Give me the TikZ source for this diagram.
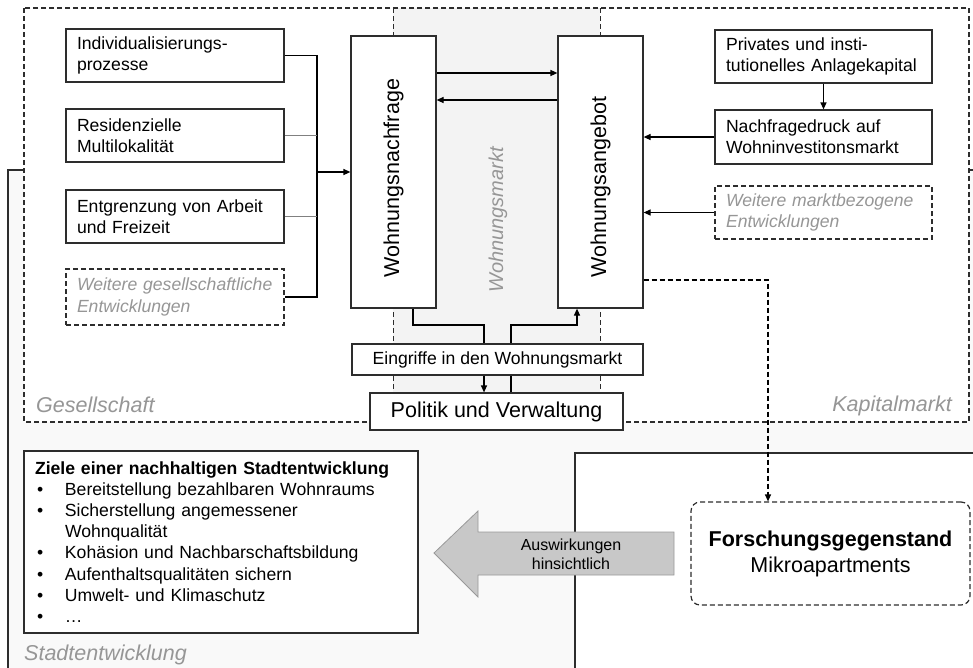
\documentclass[tikz,border=0pt]{standalone}
\usepackage{fontspec}
\setmainfont{Liberation Sans}
\usepackage{graphicx}
\usetikzlibrary{arrows.meta,calc}
\definecolor{lbl}{RGB}{150,150,150}
\definecolor{bandc}{RGB}{243,243,243}
\definecolor{outerc}{RGB}{249,249,249}
\definecolor{arrc}{RGB}{200,200,200}
\definecolor{bord}{RGB}{45,45,45}
\newcommand{\fsN}{\fontsize{17.6}{21.2}\selectfont}
\newcommand{\fsL}{\fontsize{21.5}{26}\selectfont}
\newcommand{\fsA}{\fontsize{16}{19}\selectfont}
\newcommand{\blt}{\makebox[30pt][l]{\hspace{2pt}•}}
\begin{document}
\begin{tikzpicture}[x=1pt,y=-1pt,
  bx/.style={draw=bord, line width=1.2pt, fill=white, inner xsep=11pt, inner ysep=0pt,
    text width=#1, align=left, font=\fsN, minimum height=53pt},
  bx/.default=196pt,
  dbx/.style={bx=#1, dash pattern=on 5pt off 3pt, text=lbl, font=\fsN\itshape},
  dbx/.default=196pt,
  vbox/.style={draw=bord, line width=1.2pt, fill=white, inner sep=0pt,
    minimum width=85pt, minimum height=272pt, font=\fsL},
  frm/.style={draw=bord, line width=1.1pt, dash pattern=on 5pt off 3pt},
  con/.style={draw=black, line width=1.2pt},
  arr/.style={con, -{Triangle[length=7pt,width=6pt]}},
  lab/.style={text=lbl, font=\fsL\itshape, inner sep=0pt}
]
\useasboundingbox (0,0) rectangle (973,667);
\clip (0,0) rectangle (973,667);

% Stadtentwicklung region
\draw[fill=outerc, draw=bord, line width=1.2pt] (8,700) -- (8,170) -- (978,170) -- (978,700);
% white research area
\fill[white] (575,453) rectangle (990,700);
\draw[draw=bord, line width=1.2pt] (990,453) -- (575,453) -- (575,700);

% upper frame with Wohnungsmarkt band
\fill[white] (24,8) rectangle (969,422);
\fill[bandc] (393,8) rectangle (600,393);
\draw[frm] (24,8) rectangle (969,422);
\draw[frm, line width=0.9pt] (393,8) -- (393,393);
\draw[frm, line width=0.9pt] (600,8) -- (600,393);

% region labels
\node[lab, anchor=base west] (lges) at (36,412) {Gesellschaft};
\node[lab, anchor=base east] (lkap) at (952,411) {Kapitalmarkt};
\node[lab, anchor=base west] (lstadt) at (24,660) {Stadtentwicklung};
\node[text=lbl, font=\fontsize{20}{24}\selectfont\itshape, inner sep=0pt] (lwm) at (498,220) {\rotatebox{90}{Wohnungsmarkt}};

% left boxes
\node[bx] (b1) at (175,55.5) {Individualisierungs-\\prozesse};
\node[bx] (b2) at (175,135.5) {Residenzielle\\Multilokalität};
\node[bx] (b3) at (175,216.5) {Entgrenzung von Arbeit\\und Freizeit};
\node[dbx, minimum height=56pt] (b4) at (175,297) {Weitere gesellschaftliche\\Entwicklungen};

% right boxes
\node[bx=195pt] (r1) at (823.5,56.5) {Privates und insti-\\tutionelles Anlagekapital};
\node[bx=195pt, minimum height=54pt] (r2) at (823.5,137) {Nachfragedruck auf\\Wohninvestitonsmarkt};
\node[dbx=195pt] (r3) at (823.5,212.5) {Weitere marktbezogene\\Entwicklungen};

% market boxes
\node[vbox] (nf) at (393.5,172) {\rotatebox{90}{\makebox[210pt][l]{Wohnungsnachfrage}}};
\node[vbox] (na) at (600.5,172) {\rotatebox{90}{\makebox[210pt][l]{Wohnungsangebot}}};

% intervention and politics
\node[draw=bord, line width=1.2pt, fill=white, inner sep=0pt, minimum width=291pt, minimum height=31pt, font=\fsN] (ew) at (497.5,359.5) {Eingriffe in den Wohnungsmarkt};
\node[draw=bord, line width=1.2pt, fill=white, inner sep=0pt, minimum width=253pt, minimum height=37pt, font=\fsL] (pv) at (496.5,411.5) {Politik und Verwaltung};

% goals box
\node[draw=bord, line width=1.2pt, fill=white, inner xsep=11pt, inner ysep=0pt, text width=372pt,
  minimum height=182pt, align=left, font=\fsN] (zl) at (221,542) {\textbf{Ziele einer nachhaltigen Stadtentwicklung}\\
\blt Bereitstellung bezahlbaren Wohnraums\\
\blt Sicherstellung angemessener\\
\hspace*{30pt}Wohnqualität\\
\blt Kohäsion und Nachbarschaftsbildung\\
\blt Aufenthaltsqualitäten sichern\\
\blt Umwelt- und Klimaschutz\\
\blt …};

% research object
\node[draw=bord, line width=1.2pt, dash pattern=on 5pt off 3pt, rounded corners=9pt, fill=white,
  minimum width=279pt, minimum height=103pt, align=center, font=\fsL] (fg) at (830.5,553.5)
  {\textbf{Forschungsgegenstand}\\Mikroapartments};

% big arrow
\draw[fill=arrc, draw=gray!80, line width=0.8pt] (434,553) -- (478,511) -- (478,532) -- (674,532)
  -- (674,575) -- (478,575) -- (478,597) -- cycle;
\node[font=\fsA, align=center, inner sep=0pt] (aw) at (571,554) {Auswirkungen\\hinsichtlich};

% connectors left
\coordinate (busT) at (317,55.5);
\coordinate (busB) at (317,297);
\draw[con] (b1.east) -- (busT) -- (busB) -- (b4.east);
\draw[draw=gray, line width=0.8pt] (b2.east) -- (b2.east -| busT);
\draw[draw=gray, line width=0.8pt] (b3.east) -- (b3.east -| busT);
\draw[arr] (busT |- nf.west) -- (nf.west);

% between market boxes
\draw[arr] ([yshift=99pt]nf.east) -- ([yshift=99pt]na.west);
\draw[arr] ([yshift=72pt]na.west) -- ([yshift=72pt]nf.east);

% right connectors
\draw[arr] (r1.south) -- (r2.north);
\draw[arr] (r2.west) -- (r2.west -| na.east);
\draw[arr] (r3.west) -- (r3.west -| na.east);

% dashed arrow to research object
\coordinate (dk) at (768,280);
\draw[arr, dash pattern=on 5pt off 3pt] (na.east |- dk) -- (dk) -- (dk |- fg.north);

% intervention loop
\coordinate (c1) at (413,325);
\coordinate (c2) at (484,325);
\coordinate (c3) at (511,325);
\coordinate (c4) at (577,325);
\draw[con] (nf.south -| c1) -- (c1) -- (c2) -- (c2 |- ew.north);
\draw[arr] (c2 |- ew.south) -- (c2 |- pv.north);
\draw[con] (pv.north -| c3) -- (c3 |- ew.south);
\draw[arr] (ew.north -| c3) -- (c3) -- (c4) -- (c4 |- na.south);
\end{tikzpicture}
\end{document}
